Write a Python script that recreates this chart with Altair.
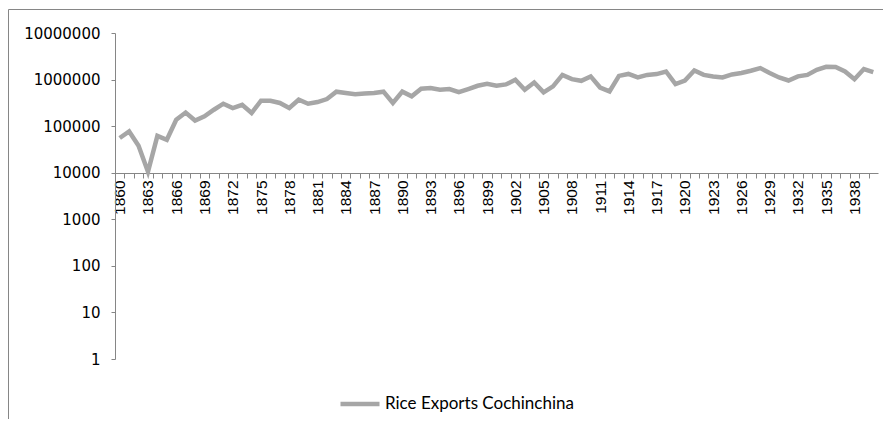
import altair as alt
import pandas as pd

years = list(range(1860, 1941))
exports = [
    55600, 77000, 38000, 10500, 62000, 51000, 137000, 196000, 132000, 162000,
    225000, 303000, 245000, 287000, 191000, 351000, 350000, 314000, 246000, 369000,
    303000, 329000, 381000, 550000, 515000, 487000, 503000, 515000, 550000, 314000,
    550000, 436000, 634000, 657000, 604000, 626000, 538000, 626000, 736000, 810000,
    736000, 786000, 990000, 604000, 866000, 530000, 713000, 1260000, 1020000, 940000,
    1170000, 675000, 556000, 1200000, 1320000, 1110000, 1260000, 1310000, 1490000, 800000,
    955000, 1570000, 1260000, 1170000, 1110000, 1290000, 1380000, 1545000, 1765000, 1380000,
    1110000, 955000, 1170000, 1260000, 1620000, 1880000, 1860000, 1490000, 1020000, 1680000,
    1450000,
]
series_name = "Rice Exports Cochinchina"
y_ticks = [1, 10, 100, 1000, 10000, 100000, 1000000, 10000000]

df = pd.DataFrame({"year": years, "value": exports, "series": series_name})

W, H = 763, 326
step = W / len(years)
axis_grey = "#868686"

line = alt.Chart(df).mark_line(strokeWidth=4.5, color="#A6A6A6").encode(
    x=alt.X(
        "year:O",
        scale=alt.Scale(type="point", padding=0.5),
        axis=alt.Axis(
            title=None,
            offset=-186,
            labelAngle=-90,
            labelExpr="(datum.value - 1860) % 3 == 0 ? datum.label : ''",
            labelOverlap=False,
            tickSize=5,
            tickOffset=-step / 2,
            labelOffset=step / 2,
            labelFont="Liberation Sans",
            labelFontSize=15.5,
            labelColor="#000000",
            labelPadding=2,
            domainColor=axis_grey,
            tickColor=axis_grey,
        ),
    ),
    y=alt.Y(
        "value:Q",
        scale=alt.Scale(type="log", domain=[1, 10000000], nice=False),
        axis=alt.Axis(
            title=None,
            values=y_ticks,
            format="d",
            grid=False,
            tickSize=4,
            labelPadding=11,
            labelFont="DejaVu Sans",
            labelFontSize=15,
            labelColor="#000000",
            domainColor=axis_grey,
            tickColor=axis_grey,
        ),
    ),
    color=alt.Color(
        "series:N",
        scale=alt.Scale(range=["#A6A6A6"]),
        legend=alt.Legend(
            title=None,
            orient="none",
            legendX=223,
            legendY=349,
            symbolType="stroke",
            symbolSize=1521,
            symbolStrokeWidth=4.5,
            labelFont="Lato",
            labelFontSize=17,
            labelLimit=0,
            labelColor="#000000",
            labelOffset=3,
        ),
    ),
)

border = alt.Chart(alt.Data(values=[{}])).mark_rect(
    fill=None, fillOpacity=0, stroke=axis_grey, strokeWidth=1
).encode(
    x=alt.value(-106.5), x2=alt.value(W + 40),
    y=alt.value(-23.5), y2=alt.value(H + 120),
)

chart = alt.layer(border, line).properties(
    width=W,
    height=H,
    autosize=alt.AutoSizeParams(type="none"),
    padding={"left": 107, "top": 25, "right": 5, "bottom": 60},
).configure_view(stroke=None)

chart.save("out.html", embed_options={"renderer": "svg", "actions": False})
